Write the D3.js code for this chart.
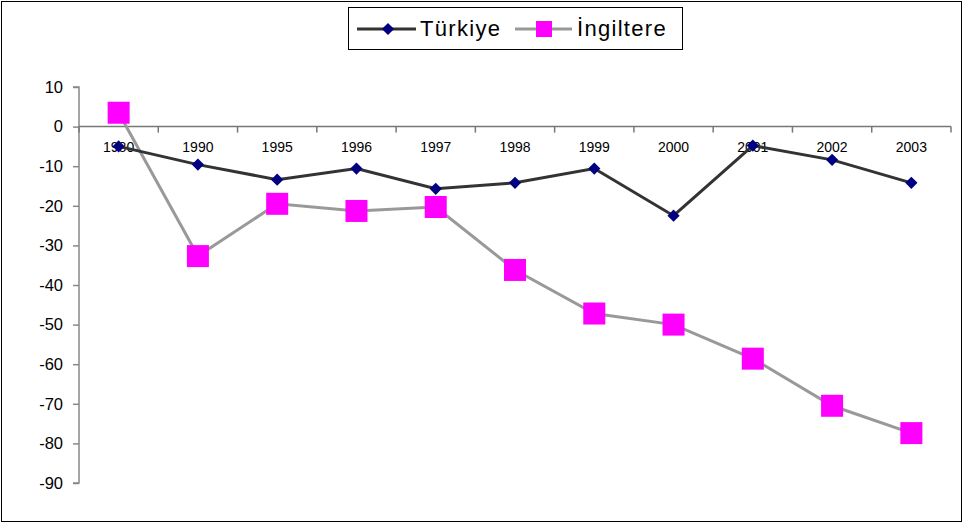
<!DOCTYPE html>
<html>
<head>
<meta charset="utf-8">
<script src="https://cdn.jsdelivr.net/npm/d3@7"></script>
<style>
  body { margin: 0; background: #fff; }
  svg text { font-family: "Liberation Sans", Arial, sans-serif; fill: #000; }
</style>
</head>
<body>
<svg id="chart" width="963" height="525"></svg>
<script>
// Years on the category axis
const years = ["1980", "1990", "1995", "1996", "1997", "1998", "1999", "2000", "2001", "2002", "2003"];
// Series values
const turkiye = [-5, -9.6, -13.4, -10.6, -15.7, -14.2, -10.6, -22.5, -4.8, -8.4, -14.2];
const ingiltere = [3.5, -32.7, -19.5, -21.3, -20.3, -36.2, -47.2, -50, -58.6, -70.5, -77.4];
const yTicks = [10, 0, -10, -20, -30, -40, -50, -60, -70, -80, -90];

const svg = d3.select("#chart");
const width = 963, height = 525;
const plot = {left: 79, right: 951, top: 87, bottom: 483};

// outer frame
svg.append("rect")
   .attr("x", 1.5).attr("y", 1.5)
   .attr("width", width - 3).attr("height", height - 5)
   .attr("fill", "none").attr("stroke", "#000").attr("stroke-width", 1);

const x = d3.scaleBand().domain(years).range([plot.left, plot.right]);
const y = d3.scaleLinear().domain([-90, 10]).range([plot.bottom, plot.top]);

// y axis (plain hyphen for negatives, like the original)
const yAxis = svg.append("g")
   .attr("transform", `translate(${plot.left},0)`)
   .call(d3.axisLeft(y).tickValues(yTicks).tickSize(6).tickPadding(10).tickFormat(d => String(d)));
yAxis.selectAll("path, line").attr("stroke", "#888").attr("stroke-width", 1.5);
yAxis.selectAll("text").attr("font-size", 16.5).attr("font-family", "Liberation Sans, Arial, sans-serif");
yAxis.select(".domain").attr("d", `M-6,${plot.top}H0V${plot.bottom}H-6`);

// x axis on the zero line, ticks between categories
const xAxis = svg.append("g")
   .attr("transform", `translate(0,${y(0)})`);
xAxis.append("line")
   .attr("x1", plot.left).attr("x2", plot.right)
   .attr("stroke", "#777").attr("stroke-width", 1.5);
xAxis.selectAll(".tk")
   .data(years.concat(["end"]))
   .enter().append("line")
   .attr("x1", (d, i) => i < years.length ? x(d) : plot.right)
   .attr("x2", (d, i) => i < years.length ? x(d) : plot.right)
   .attr("y1", 0).attr("y2", 6)
   .attr("stroke", "#777").attr("stroke-width", 1.5);
xAxis.selectAll(".lbl")
   .data(years)
   .enter().append("text")
   .attr("x", d => x(d) + x.bandwidth() / 2)
   .attr("y", 25)
   .attr("text-anchor", "middle")
   .attr("font-size", 14)
   .text(d => d);

const cx = (d, i) => x(years[i]) + x.bandwidth() / 2;
const line = d3.line().x((d, i) => cx(d, i)).y(d => y(d));

// İngiltere series
svg.append("path")
   .datum(ingiltere)
   .attr("d", line)
   .attr("fill", "none").attr("stroke", "#999").attr("stroke-width", 3);

// Türkiye series
svg.append("path")
   .datum(turkiye)
   .attr("d", line)
   .attr("fill", "none").attr("stroke", "#333").attr("stroke-width", 3);

svg.selectAll(".sq")
   .data(ingiltere)
   .enter().append("rect")
   .attr("x", (d, i) => cx(d, i) - 11)
   .attr("y", d => y(d) - 11)
   .attr("width", 22).attr("height", 22)
   .attr("fill", "#ff00ff");

svg.selectAll(".dm")
   .data(turkiye)
   .enter().append("path")
   .attr("d", d3.symbol().type(d3.symbolDiamond2).size(95))
   .attr("transform", (d, i) => `translate(${cx(d, i)},${y(d)})`)
   .attr("fill", "#000080");

// legend
const legend = svg.append("g");
legend.append("rect")
   .attr("x", 348.5).attr("y", 7.5)
   .attr("width", 334).attr("height", 42)
   .attr("fill", "#fff").attr("stroke", "#000").attr("stroke-width", 1);
legend.append("line")
   .attr("x1", 357).attr("x2", 416).attr("y1", 29).attr("y2", 29)
   .attr("stroke", "#333").attr("stroke-width", 3);
legend.append("path")
   .attr("d", d3.symbol().type(d3.symbolDiamond2).size(95))
   .attr("transform", "translate(388,29)")
   .attr("fill", "#000080");
legend.append("text")
   .attr("x", 420).attr("y", 36)
   .attr("font-size", 22)
   .attr("letter-spacing", 1.3)
   .text("Türkiye");
legend.append("line")
   .attr("x1", 515).attr("x2", 572).attr("y1", 29).attr("y2", 29)
   .attr("stroke", "#999").attr("stroke-width", 3);
legend.append("rect")
   .attr("x", 536).attr("y", 21).attr("width", 16).attr("height", 16)
   .attr("fill", "#ff00ff");
legend.append("text")
   .attr("x", 577).attr("y", 36)
   .attr("font-size", 22)
   .attr("letter-spacing", 1.3)
   .text("İngiltere");
</script>
</body>
</html>
